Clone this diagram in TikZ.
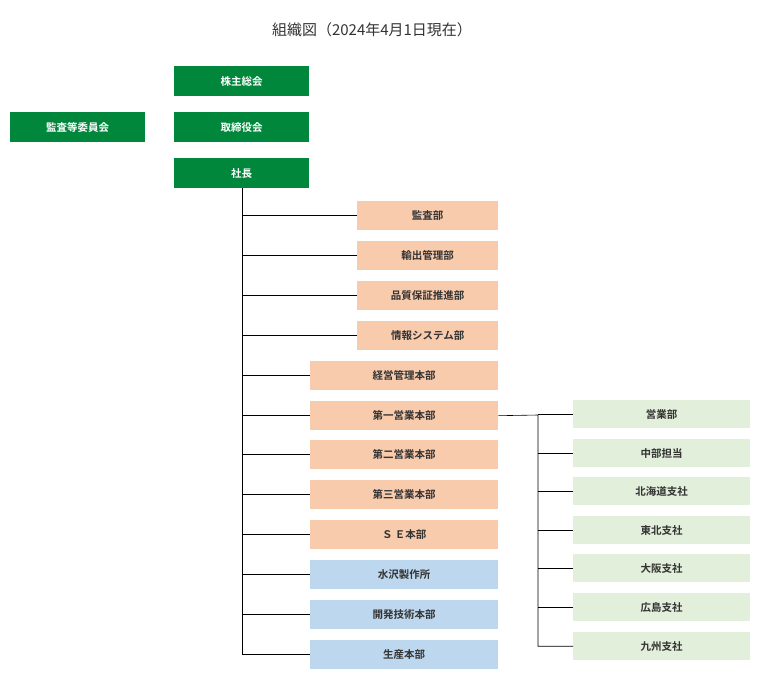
\documentclass[tikz,border=0pt]{standalone}
\usepackage{fontspec}
\setmainfont{Noto Sans CJK JP}
\newfontfamily\jpb{Noto Sans CJK JP Bold}
\definecolor{dg}{HTML}{00873C}
\definecolor{og}{HTML}{F8CBAD}
\definecolor{bl}{HTML}{BDD7EE}
\definecolor{lg}{HTML}{E2EFDA}
\definecolor{tx}{HTML}{333333}
\tikzset{
 bx/.style={anchor=north west,inner sep=0pt,font=\jpb\fontsize{10.5}{12}\selectfont},
 gbox/.style={bx,fill=dg,text=white},
 obox/.style={bx,fill=og,text=tx},
 bbox/.style={bx,fill=bl,text=tx},
 lbox/.style={bx,fill=lg,text=tx},
 ln/.style={draw=black,line width=0.6pt}
}
\newcommand{\bxx}[7]{\node[#1,minimum width=#4pt,minimum height=#5pt] (#6) at (#2,#3) {#7};}
\begin{document}
\begin{tikzpicture}[x=1pt,y=-1pt]
\useasboundingbox (0,0) rectangle (761,683);
\node[text=tx,font=\fontsize{15}{18}\selectfont] (title) at (372,30) {組織図（2024年4月1日現在）};
\bxx{gbox}{174}{66}{135}{30}{kab}{株主総会}
\bxx{gbox}{174}{112}{135}{30}{tor}{取締役会}
\bxx{gbox}{10}{112}{135}{30}{kan}{監査等委員会}
\bxx{gbox}{174}{158}{135}{30}{sha}{社長}
\bxx{obox}{357}{201}{141}{29}{a1}{監査部}
\bxx{obox}{357}{241}{141}{29}{a2}{輸出管理部}
\bxx{obox}{357}{281}{141}{29}{a3}{品質保証推進部}
\bxx{obox}{357}{321}{141}{29}{a4}{情報システム部}
\bxx{obox}{310}{361}{188}{29}{a5}{経営管理本部}
\bxx{obox}{310}{401}{188}{29}{a6}{第一営業本部}
\bxx{obox}{310}{440}{188}{29}{a7}{第二営業本部}
\bxx{obox}{310}{480}{188}{29}{a8}{第三営業本部}
\bxx{obox}{310}{520}{188}{29}{a9}{Ｓ Ｅ本部}
\bxx{bbox}{310}{560}{188}{29}{a10}{水沢製作所}
\bxx{bbox}{310}{600}{188}{29}{a11}{開発技術本部}
\bxx{bbox}{310}{640}{188}{29}{a12}{生産本部}
\bxx{lbox}{573}{400}{177}{28}{b1}{営業部}
\bxx{lbox}{573}{439}{177}{28}{b2}{中部担当}
\bxx{lbox}{573}{477}{177}{28}{b3}{北海道支社}
\bxx{lbox}{573}{516}{177}{28}{b4}{東北支社}
\bxx{lbox}{573}{554}{177}{28}{b5}{大阪支社}
\bxx{lbox}{573}{593}{177}{28}{b6}{広島支社}
\bxx{lbox}{573}{632}{177}{28}{b7}{九州支社}
\coordinate (top) at (242,188);
\draw[ln] (top) |- (a12.west);
\foreach \n in {a1,a2,a3,a4,a5,a6,a7,a8,a9,a10,a11}
  \draw[ln] (top |- \n.west) -- (\n.west);
\coordinate (br) at (538,415);
\draw[ln] (a6.east) -- (br) |- (b7.west);
\foreach \n in {b1,b2,b3,b4,b5,b6}
  \draw[ln] (br |- \n.west) -- (\n.west);
\end{tikzpicture}
\end{document}
